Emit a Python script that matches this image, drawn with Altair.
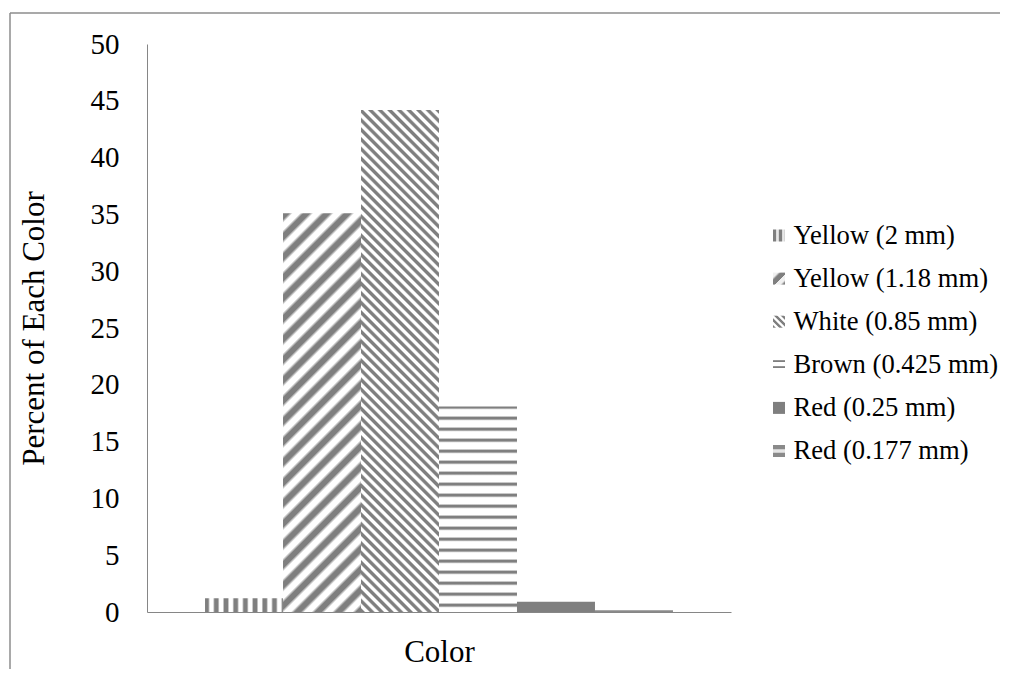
import math
import altair as alt
import pandas as pd

# ---------------- data ----------------
category = "Color"
series = ["Yellow (2 mm)", "Yellow (1.18 mm)", "White (0.85 mm)",
          "Brown (0.425 mm)", "Red (0.25 mm)", "Red (0.177 mm)"]
values = [1.2, 35.1, 44.2, 18.1, 0.9, 0.15]
y_ticks = [0, 5, 10, 15, 20, 25, 30, 35, 40, 45, 50]

# ---------------- layout / style ----------------
W, H = 584, 568
Y_MAX = 50
PAD_OUTER = 0.744
FONT = "Liberation Serif"
GRAY = "#7f7f7f"
WHITE = "#ffffff"
AXIS_GRAY = "#868686"
FRAME_GRAY = "#8c8c8c"
LEG_FONT = 26.6

bandwidth = W / (len(series) + 2 * PAD_OUTER)


def js(obj):
    if isinstance(obj, dict):
        return "{" + ",".join(f"{k}:{js(v)}" for k, v in obj.items()) + "}"
    if isinstance(obj, list):
        return "[" + ",".join(js(v) for v in obj) + "]"
    if isinstance(obj, str):
        return "'" + obj + "'"
    return f"{obj:.6f}"


def stripe_stops(n_periods, profile):
    stops = []
    k = 0
    while True:
        done = False
        for f, c in profile:
            t = (k + f) / n_periods
            if t > 1:
                done = True
                break
            stops.append({"offset": t, "color": c})
        if done:
            break
        k += 1
    return stops


PROFILE_WIDE = [(0.0, GRAY), (0.3, GRAY), (0.48, WHITE), (0.82, WHITE)]
PROFILE_HALF = [(0.0, GRAY), (0.32, GRAY), (0.5, WHITE), (0.82, WHITE)]
PROFILE_LINE = [(0.0, GRAY), (0.14, GRAY), (0.3, WHITE), (0.86, WHITE)]


def vertical(w, period, profile):
    return {"gradient": "linear", "x1": 0, "y1": 0, "x2": 1, "y2": 0,
            "stops": stripe_stops(w / period, profile)}


def horizontal(h, period, profile):
    return {"gradient": "linear", "x1": 0, "y1": 0, "x2": 0.000001, "y2": 1,
            "stops": stripe_stops(h / period, profile)}


def diag_up(w, h, period, profile):  # "/" stripes
    r = w / h
    dy = (1 + r) / (1 + r * r)
    dx = r * dy
    n = (w + h) / (math.sqrt(2) * period)
    return {"gradient": "linear", "x1": 0, "y1": 0, "x2": dx, "y2": dy,
            "stops": stripe_stops(n, profile)}


def diag_down(w, h, period, profile):  # "\" stripes
    r = w / h
    dy = (1 + r) / (1 + r * r)
    dx = r * dy
    n = (w + h) / (math.sqrt(2) * period)
    return {"gradient": "linear", "x1": 0, "y1": 1, "x2": dx, "y2": 1 - dy,
            "stops": stripe_stops(n, profile)}


heights = [v / Y_MAX * H for v in values]

bar_range = [
    {"expr": js(vertical(bandwidth, 9.7, PROFILE_HALF))},
    {"expr": js(diag_up(bandwidth, heights[1], 14.5, PROFILE_WIDE))},
    {"expr": js(diag_down(bandwidth, heights[2], 6.8, PROFILE_HALF))},
    {"expr": js(horizontal(heights[3], 11.0, PROFILE_LINE))},
    "#7f7f7f",
    "#8a8a8a",
]

SYM = 12
legend_range = [
    {"expr": js(vertical(SYM, 6.0, [(0.0, GRAY), (0.45, GRAY), (0.6, "#e8e8e8"), (0.9, "#e8e8e8")]))},
    {"expr": js(diag_up(SYM, SYM, 10.0, [(0.0, "#f0f0f0"), (0.35, "#f0f0f0"), (0.55, GRAY), (1.0, GRAY)]))},
    {"expr": js(diag_down(SYM, SYM, 4.8, PROFILE_HALF))},
    {"expr": js(horizontal(SYM, 6.0, [(0.0, WHITE), (0.2, WHITE), (0.3, GRAY), (0.5, GRAY), (0.6, WHITE)]))},
    "#7f7f7f",
    {"expr": js(horizontal(SYM, SYM, [(0.0, "#8a8a8a"), (0.3, "#8a8a8a"), (0.4, "#e6e6e6"),
                                       (0.6, "#e6e6e6"), (0.7, "#8a8a8a")]))},
]

df = pd.DataFrame({"series": series, "value": values, "category": category})

x_enc = alt.X(
    "series:N", sort=series,
    scale=alt.Scale(paddingInner=0, paddingOuter=PAD_OUTER),
    axis=alt.Axis(labels=False, ticks=False, title=category, domainColor=AXIS_GRAY,
                  domainWidth=1, titleFont=FONT, titleFontSize=31, titleFontWeight="normal",
                  titleColor="black", titlePadding=25),
)
y_enc = alt.Y(
    "value:Q",
    scale=alt.Scale(domain=[0, Y_MAX], nice=False),
    axis=alt.Axis(values=y_ticks, ticks=False, grid=False, domainColor=AXIS_GRAY, domainWidth=1,
                  labelFont=FONT, labelFontSize=29, labelColor="black", labelPadding=28,
                  title="Percent of Each Color", titleFont=FONT, titleFontSize=31,
                  titleFontWeight="normal", titleColor="black", titlePadding=40),
)

# fill scale keeps a data-driven domain (sorted as `series`) so its hidden legend
# is not merged with the visible colour legend below
bars = alt.Chart(df).mark_bar().encode(
    x=x_enc,
    y=y_enc,
    fill=alt.Fill("series:N", sort=series, scale=alt.Scale(range=bar_range), legend=None),
)

legend_layer = alt.Chart(df).mark_square(opacity=0).encode(
    x=alt.X("series:N", sort=series),
    y=alt.Y("value:Q"),
    color=alt.Color(
        "series:N", sort=series,
        scale=alt.Scale(domain=series, range=legend_range),
        legend=alt.Legend(title=None, orient="none", legendX=618.7, legendY=178.2, padding=0,
                          labelFont=FONT, labelFontSize=LEG_FONT, labelColor="black",
                          labelLimit=400, symbolType="square", symbolSize=SYM * SYM,
                          symbolStrokeWidth=0, symbolOpacity=1, labelOffset=1.2,
                          rowPadding=42.7 - LEG_FONT),
    ),
)

frame_data = alt.Data(values=[{"frame": 1}])
frame_top = alt.Chart(frame_data).mark_rule(color=FRAME_GRAY, strokeWidth=1.5).encode(
    x=alt.value(-137), x2=alt.value(853), y=alt.value(-31))
frame_left = alt.Chart(frame_data).mark_rule(color=FRAME_GRAY, strokeWidth=1.5).encode(
    x=alt.value(-137), y=alt.value(-31), y2=alt.value(625))

chart = alt.layer(bars, legend_layer, frame_top, frame_left).properties(
    width=W, height=H,
    padding={"left": 1, "top": 4, "right": 0, "bottom": 0},
    background="white",
).configure_view(strokeOpacity=0)

chart.save("out.html", embed_options={"renderer": "svg", "actions": False})
